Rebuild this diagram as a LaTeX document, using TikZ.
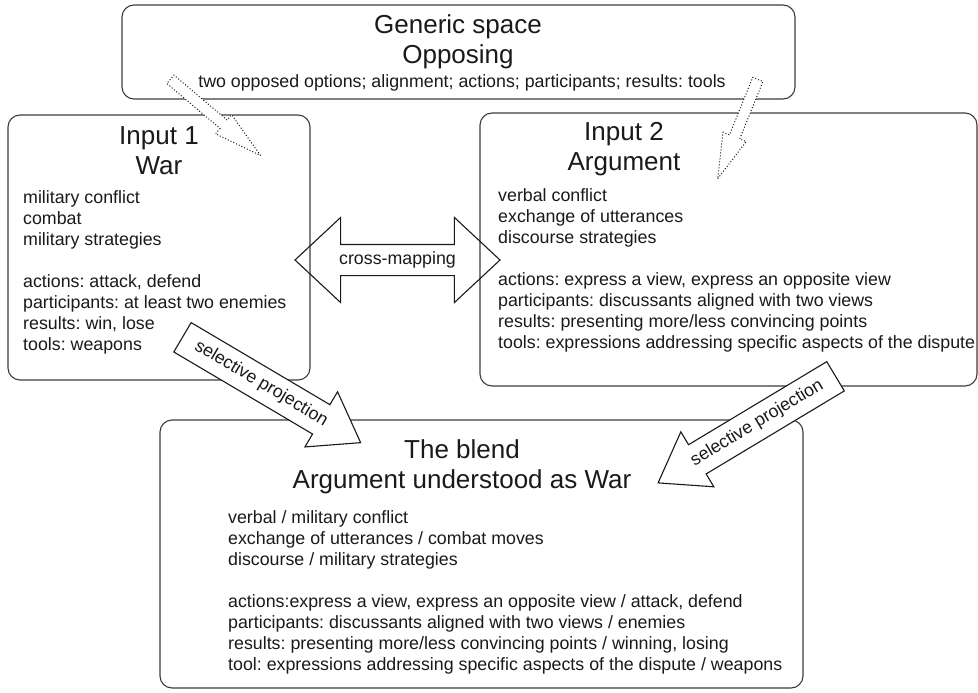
\documentclass[tikz,border=0pt]{standalone}
\usepackage{fontspec}
\setmainfont{Liberation Sans}
\frenchspacing
\definecolor{boxline}{HTML}{3C3C3C}
\definecolor{darktext}{HTML}{1A1A1A}
\usepackage{tikz}
\usetikzlibrary{shapes.arrows}

\tikzset{
  panel/.style={draw=boxline, line width=1.1pt, rounded corners=12pt},
  paneltitle/.style={align=center, inner sep=0pt, text=darktext, font=\fontsize{26}{30}\selectfont},
  panelbody/.style={align=left, anchor=north west, inner sep=0pt, text=darktext, font=\fontsize{17.8}{21}\selectfont},
  projarrow/.style={single arrow, draw=darktext, line width=1.1pt, fill=white, text=darktext,
    font=\fontsize{17.8}{21}\selectfont, text height=13pt, text depth=4pt, inner xsep=4pt, inner ysep=8pt,
    single arrow head extend=15pt, single arrow tip angle=70, minimum height=207pt},
  maparrow/.style={double arrow, draw=darktext, line width=1.1pt, text=darktext,
    font=\fontsize{17.8}{21}\selectfont, text height=13pt, text depth=4pt, inner xsep=4pt, inner ysep=6.5pt,
    double arrow head extend=27pt, double arrow tip angle=86, minimum height=205pt},
  dotarrow/.style={single arrow, draw=darktext, dotted, line width=1pt, fill=white,
    inner sep=0pt, inner ysep=5pt, single arrow head extend=7pt}
}

\begin{document}
\begin{tikzpicture}[x=1pt, y=-1pt]
      \useasboundingbox[fill=white] (0,0) rectangle (978,693);

      % Frames
      \draw[panel] (122,5) rectangle (795,99);
      \draw[panel] (8,115) rectangle (310,380);
      \draw[panel] (480,113) rectangle (977,386);
      \draw[panel] (160,420) rectangle (803,688);

      % Generic space
      \node[paneltitle] (generictitle) at (458,42) {Generic space\\Opposing};
      \node[inner sep=0pt, text=darktext, font=\fontsize{17.8}{21}\selectfont] (genericlist) at (462,83)
        {two opposed options; alignment; actions; participants; results: tools};

      % Input 1
      \node[paneltitle] (wartitle) at (159,151) {Input 1\\War};
      \node[panelbody] (warlist) at (23,190) {military conflict\\combat\\military strategies\\[21pt]
        actions: attack, defend\\participants: at least two enemies\\results: win, lose\\tools: weapons};

      % Input 2
      \node[paneltitle] (argtitle) at (624,149) {Input 2\\Argument};
      \node[panelbody] (arglist) at (498,188) {verbal conflict\\exchange of utterances\\discourse strategies\\[21pt]
        actions: express a view, express an opposite view\\participants: discussants aligned with two views\\
        results: presenting more/less convincing points\\tools: expressions addressing specific aspects of the dispute};

      % Blend
      \node[paneltitle] (blendtitle) at (462,467) {The blend\\Argument understood as War};
      \node[panelbody] (blendlist) at (228,510) {verbal / military conflict\\exchange of utterances / combat moves\\
        discourse / military strategies\\[21pt]
        actions:express a view, express an opposite view / attack, defend\\
        participants: discussants aligned with two views / enemies\\
        results: presenting more/less convincing points / winning, losing\\
        tool: expressions addressing specific aspects of the dispute / weapons};

      % Generic space to the inputs
      \node[dotarrow, anchor=tail, rotate=-40.2, minimum height=118pt, single arrow tip angle=29] (genwar) at (170,79) {};
      \node[dotarrow, anchor=tail, rotate=-112, minimum height=107pt, single arrow tip angle=31] (genarg) at (758,79) {};

      % Cross-mapping
      \node[maparrow] (crossmap) at (397.5,260) {cross-mapping};

      % Projections into the blend
      \node[projarrow, anchor=tail, rotate=-30.6] (projwar) at (182,337) {selective projection};
      \node[projarrow, anchor=tail, shape border rotate=180, rotate=31] (projarg) at (836,376) {selective projection};
\end{tikzpicture}
\end{document}
